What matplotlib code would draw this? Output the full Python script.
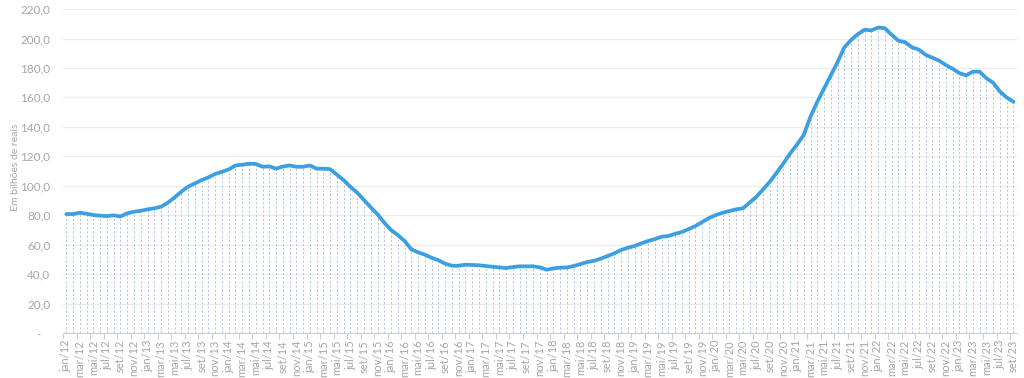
import matplotlib
matplotlib.use("Agg")
from matplotlib import pyplot as plt
from matplotlib.ticker import FuncFormatter, MultipleLocator
import numpy as np

plt.rcParams['font.family'] = ['Lato', 'DejaVu Sans']

meses = ['jan', 'fev', 'mar', 'abr', 'mai', 'jun', 'jul', 'ago', 'set', 'out', 'nov', 'dez']
rotulos = [f'{m}/{a:02d}' for a in range(12, 24) for m in meses][:141]

valores = [
    80.8, 80.8, 81.7, 81.0, 80.1, 79.7, 79.4, 79.9, 79.2, 81.3, 82.4, 83.0,
    84.0, 84.7, 85.8, 88.5, 92.1, 96.0, 99.4, 101.6, 103.9, 105.7, 108.0, 109.5,
    111.1, 113.8, 114.3, 115.0, 114.8, 112.9, 113.2, 111.6, 113.1, 113.8, 112.9, 112.9,
    113.8, 111.6, 111.6, 111.3, 107.5, 103.8, 99.2, 95.3, 90.3, 85.3, 80.6, 74.9,
    69.9, 66.5, 62.5, 56.8, 54.8, 53.2, 51.1, 49.4, 47.1, 45.7, 45.7, 46.4,
    46.2, 46.0, 45.5, 45.0, 44.6, 44.1, 44.8, 45.3, 45.3, 45.3, 44.6, 43.0,
    43.9, 44.4, 44.5, 45.5, 46.8, 48.2, 49.1, 50.5, 52.3, 54.1, 56.4, 57.9,
    59.1, 60.9, 62.5, 63.8, 65.4, 65.9, 67.4, 68.6, 70.6, 72.7, 75.4, 78.1,
    80.1, 81.7, 82.8, 84.0, 84.7, 88.5, 92.6, 97.6, 102.8, 108.9, 115.2, 122.0,
    128.0, 134.5, 147.0, 157.0, 166.0, 175.0, 184.0, 194.0, 199.0, 203.0, 206.0, 205.5,
    207.5, 207.0, 202.5, 198.5, 197.5, 194.0, 192.5, 189.0, 187.0, 185.0, 182.0, 179.5,
    176.5, 175.0, 177.5, 177.5, 173.0, 170.0, 164.0, 160.0, 157.0,
]

x = np.arange(len(valores))
cinza = '#a6a6a6'

fig = plt.figure(figsize=(10.24, 3.78), dpi=100)
ax = fig.add_axes([0.0615, 0.119, 0.9315, 0.857])

# linhas de chamada (tracejadas) de cada ponto ate o zero
ax.vlines(x, 0, valores, colors='#b4c6de', linestyles=(0, (2, 2)), linewidth=0.75, zorder=1)
ax.plot(x, valores, color='#3d9fe3', linewidth=2.7, solid_capstyle='round', zorder=3)

ax.set_xlim(-0.5, len(valores) - 0.5)
ax.set_ylim(0, 220)
ax.yaxis.set_major_locator(MultipleLocator(20))
ax.yaxis.set_major_formatter(FuncFormatter(
    lambda v, p: '-   ' if v == 0 else f'{v:.1f}'.replace('.', ',')))
ax.grid(axis='y', color='#e9edf2', linewidth=0.9, zorder=0)
ax.set_axisbelow(True)

ax.set_xticks(x[::2])
ax.set_xticklabels(rotulos[::2], rotation=90)
ax.set_xticks(np.arange(-0.5, len(valores), 2), minor=True)
ax.tick_params(axis='x', which='major', length=0, pad=5, labelsize=8, labelcolor=cinza)
ax.tick_params(axis='x', which='minor', length=4, color='#d0d0d0', width=0.8)
ax.tick_params(axis='y', length=0, pad=9, labelsize=8.5, labelcolor=cinza)

for lado in ['top', 'right', 'left']:
    ax.spines[lado].set_visible(False)
ax.spines['bottom'].set_color('#d0d0d0')
ax.spines['bottom'].set_linewidth(0.8)

ax.set_ylabel('Em bilhões de reais', color=cinza, fontsize=7.5)
ax.yaxis.set_label_coords(-0.045, 0.51)

fig.savefig('out.png', dpi=100)
